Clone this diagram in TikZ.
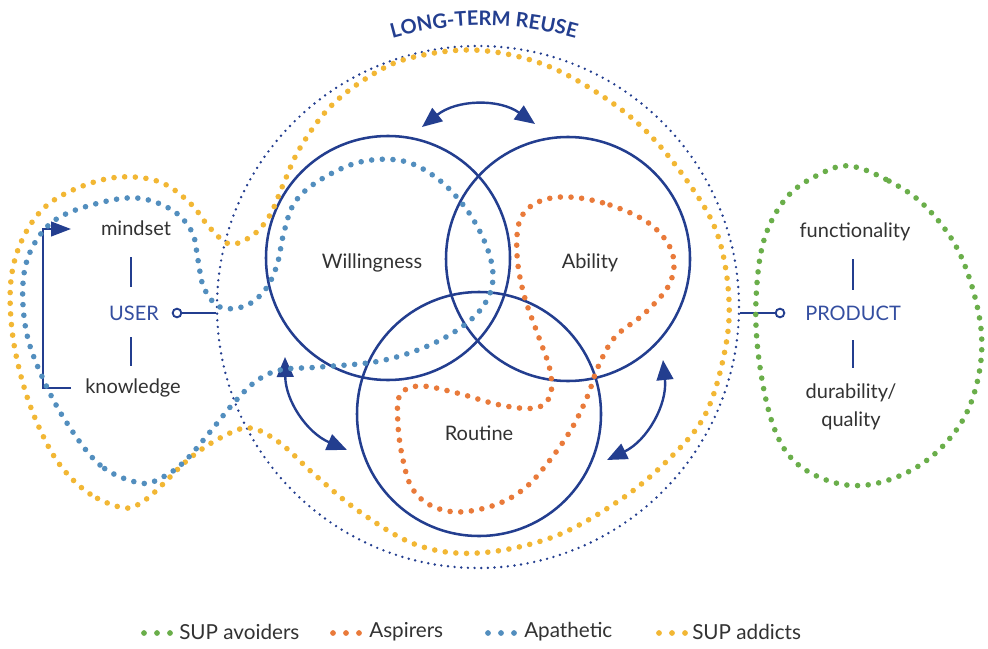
\documentclass[tikz,border=0pt]{standalone}
\usepackage{fontspec}
\setmainfont{Lato}
\usetikzlibrary{arrows.meta,decorations.text}

\definecolor{navy}{RGB}{35,62,143}
\definecolor{labelblue}{RGB}{52,78,160}
\definecolor{ink}{RGB}{50,50,50}
\definecolor{avoidgreen}{RGB}{106,174,74}
\definecolor{aspireorange}{RGB}{233,122,58}
\definecolor{apathblue}{RGB}{82,142,190}
\definecolor{addictyellow}{RGB}{242,183,52}

\begin{document}
\begin{tikzpicture}[x=0.75pt,y=-0.75pt,
  ring/.style={circle, draw=navy, line width=1.9pt, inner sep=0pt, minimum size=183pt},
  blob/.style={line width=4.2pt, line cap=round, dash pattern=on 0pt off 8pt},
  swap/.style={navy, line width=1.8pt,
    {Triangle[length=15pt,width=12.5pt]}-{Triangle[length=15pt,width=12.5pt]}},
  word/.style={text=ink, font=\fontsize{15}{18}\selectfont, inner sep=0pt},
  keyword/.style={text=labelblue, font=\fontsize{15}{18}\selectfont, inner sep=0pt},
  tick/.style={draw=navy, line width=1.9pt},
  pin/.style={circle, draw=navy, fill=white, line width=1.4pt, inner sep=0pt, minimum size=6.5pt},
  legenddot/.style={circle, inner sep=0pt, minimum size=4.3pt},
  legendtext/.style={text=ink, font=\fontsize{15.5}{18}\selectfont, inner sep=0pt, anchor=west}
]
\useasboundingbox (0,0) rectangle (988,649);

% outer frame: long-term reuse
\node[circle, draw=navy, line width=2pt, line cap=round, dash pattern=on 0pt off 5pt,
      inner sep=0pt, minimum size=391.5pt] (reuse) at (478,307) {};

\coordinate (titleL) at (380,42);
\coordinate (titleR) at (588,42);
\path[decorate, decoration={text along path, text align=center, text color=navy,
      text={|\fontsize{15}{17}\selectfont\bfseries|LONG-TERM REUSE}}]
  (titleL) .. controls (448,20) and (520,20) .. (titleR);

% the three overlapping conditions
\node[ring] (will) at (388,258) {};
\node[ring] (abil) at (568,259) {};
\node[ring] (rout) at (479,414) {};

\node[word] (willtext) at (372,263) {Willingness};
\node[word] (abiltext) at (590,263) {Ability};
\node[word] (routtext) at (479,433) {Routine};

% reciprocal arrows between the conditions
\coordinate (topA) at (422,127);
\coordinate (topB) at (535,124);
\draw[swap] (topA) to[bend left=37] (topB);
\coordinate (leftA) at (285,357);
\coordinate (leftB) at (347,450);
\draw[swap] (leftA) to[bend right=33] (leftB);
\coordinate (rightA) at (663,360);
\coordinate (rightB) at (607,460);
\draw[swap] (rightA) to[bend left=35] (rightB);

% user side
\node[word] (mindset) at (136,228) {mindset};
\node[keyword] (user) at (134,313) {USER};
\node[word] (knowledge) at (133,388) {knowledge};
\draw[tick] (131,257) -- (131,287);
\draw[tick] (131,337) -- (131,366);
\node[pin] (userpin) at (177,313) {};
\draw[draw=navy, line width=1.5pt] (userpin) -- (userpin -| reuse.west);
\coordinate (bracketA) at (71,388);
\coordinate (bracketB) at (71,229);
\draw[navy, line width=1.6pt, -{Triangle[length=15pt,width=11pt]}]
  (bracketA) -- ++(-28,0) |- (bracketB);

% product side
\node[word] (function) at (855,232) {functionality};
\node[keyword] (product) at (853,313) {PRODUCT};
\node[word, align=center, font=\fontsize{15}{21}\selectfont] (durable) at (851,407) {durability/\\quality};
\draw[tick] (853,259) -- (853,290);
\draw[tick] (853,340) -- (853,368);
\node[pin] (productpin) at (780,313) {};
\draw[draw=navy, line width=1.5pt] (productpin) -- (productpin -| reuse.east);

% consumer segments
\draw[blob, addictyellow] plot[smooth cycle, tension=0.6] coordinates {
  (125,508) (90,494) (60,465) (38,425) (22,380) (12,330) (11,280) (22,240)
  (45,207) (80,187) (120,177) (160,182) (190,203) (210,228) (230,244)
  (253,235) (270,215) (283,185) (300,148) (330,107) (370,76) (410,58)
  (473,50) (537,62) (593,90) (645,130) (690,185) (718,236) (729,300)
  (724,355) (705,415) (670,458) (620,500) (553,537) (478,553) (417,545)
  (360,512) (315,475) (280,443) (250,428) (222,437) (190,458) (160,487) (145,500)};

\draw[blob, apathblue] plot[smooth cycle, tension=0.6] coordinates {
  (140,483) (100,465) (65,420) (40,372) (26,330) (23,283) (32,248) (55,220)
  (95,204) (137,198) (172,210) (192,232) (198,260) (204,288) (220,307)
  (245,306) (265,290) (277,265) (284,232) (295,202) (320,180) (360,162)
  (403,161) (438,179) (467,210) (486,245) (493,275) (487,300) (467,323)
  (430,345) (380,361) (320,367) (280,370) (255,382) (232,405) (210,432)
  (185,461) (163,477)};

\draw[blob, aspireorange] plot[smooth cycle, tension=0.6] coordinates {
  (569,197) (610,205) (650,224) (672,252) (670,283) (645,313) (615,337)
  (598,367) (588,395) (572,428) (550,460) (525,488) (495,505) (458,512)
  (430,505) (412,488) (403,460) (398,425) (400,395) (420,386) (457,393)
  (500,405) (535,408) (550,396) (550,370) (538,335) (524,295) (517,255)
  (520,220) (538,202)};

\draw[blob, avoidgreen] plot[smooth cycle, tension=0.6] coordinates {
  (850,166) (889,181) (925,206) (958,250) (978,310) (981,360) (968,410)
  (942,447) (908,472) (867,485) (829,481) (793,460) (772,422) (759,360)
  (756,300) (764,240) (787,197) (820,174)};

% legend
\foreach \x in {144,157,170} \node[legenddot, fill=avoidgreen] at (\x,633) {};
\node[legendtext] (lgA) at (179,632) {SUP avoiders};
\foreach \x in {333,346,359} \node[legenddot, fill=aspireorange] at (\x,633) {};
\node[legendtext] (lgB) at (369,632) {Aspirers};
\foreach \x in {488,501,514} \node[legenddot, fill=apathblue] at (\x,633) {};
\node[legendtext] (lgC) at (524,632) {Apathetic};
\foreach \x in {659,672,685} \node[legenddot, fill=addictyellow] at (\x,633) {};
\node[legendtext] (lgD) at (692,632) {SUP addicts};
\end{tikzpicture}
\end{document}
